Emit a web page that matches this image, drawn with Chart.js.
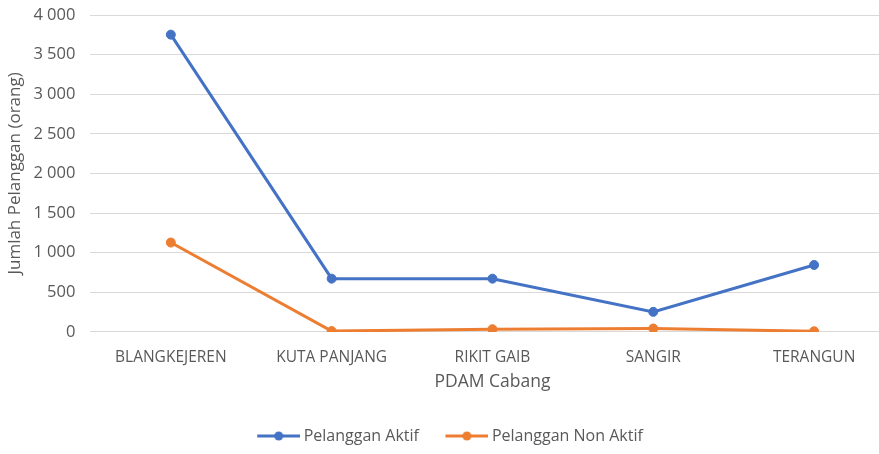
<!DOCTYPE html>
<html><head><meta charset="utf-8">
<script src="https://cdn.jsdelivr.net/npm/chart.js@4/dist/chart.umd.min.js"></script>
<style>html,body{margin:0;padding:0;overflow:hidden;background:#fff}#wrap{width:900px;height:454px}</style>
</head><body><div id="wrap"><canvas id="c" width="900" height="454"></canvas></div>
<script>
const categories = ['BLANGKEJEREN','KUTA PANJANG','RIKIT GAIB','SANGIR','TERANGUN'];
const aktif = [3752, 672, 672, 253, 845];
const nonAktif = [1128, 10, 34, 43, 8];
const seriesNames = ['Pelanggan Aktif','Pelanggan Non Aktif'];
const xTitle = 'PDAM Cabang';
const yTitle = 'Jumlah Pelanggan (orang)';

const FONT = '"Open Sans", sans-serif';
const GREY = '#595959';
const ICON_W = 54;           // legend point-style slot width
const LEGEND_CENTER = 450;   // visual centre of the legend row
function legendIcon(color){
  const W = ICON_W + 9, L = 43;
  const c = document.createElement('canvas'); c.width = W; c.height = 12;
  const g = c.getContext('2d');
  g.strokeStyle = color; g.lineWidth = 3; g.beginPath(); g.moveTo(W - L, 6); g.lineTo(W, 6); g.stroke();
  g.fillStyle = color; g.beginPath(); g.arc(W - L / 2, 6, 4.5, 0, Math.PI * 2); g.fill();
  return c;
}
const icons = [legendIcon('#4472C4'), legendIcon('#ED7D31')];

const legendShift = {
  id: 'legendShift',
  afterLayout(chart) {
    const lg = chart.legend; if (!lg) return;
    const cur = (lg.left + lg.right) / 2 + (ICON_W - 38.5) / 2;
    const s = cur - LEGEND_CENTER;
    lg.left -= s; lg.right -= s;
  }
};

new Chart(document.getElementById('c'), {
  type: 'line',
  data: {
    labels: categories,
    datasets: [
      {label: seriesNames[0], data: aktif, borderColor:'#4472C4', backgroundColor:'#4472C4', borderWidth:3, pointRadius:4.5, pointBorderWidth:1, pointHoverRadius:4.5},
      {label: seriesNames[1], data: nonAktif, borderColor:'#ED7D31', backgroundColor:'#ED7D31', borderWidth:3, pointRadius:4.5, pointBorderWidth:1, pointHoverRadius:4.5}
    ]
  },
  plugins: [legendShift],
  options: {
    responsive: false, animation: false,
    layout: {padding: {top: 0, left: 0, right: -8, bottom: 0}},
    plugins: {
      tooltip: {enabled:false},
      legend: {position:'bottom', labels: {
        usePointStyle: true, pointStyleWidth: ICON_W, color: GREY, font: {family: FONT, size: 16}, padding: 11,
        generateLabels: (chart) => chart.data.datasets.map((d,i) => ({text: d.label, pointStyle: icons[i], fillStyle: d.borderColor, strokeStyle: d.borderColor, lineWidth: 0, datasetIndex: i, fontColor: GREY}))
      }}
    },
    scales: {
      x: {
        offset: true,
        grid: {display:false, drawTicks:false},
        border: {display:false},
        ticks: {color: GREY, font:{family: FONT, size: 15.5}, padding: 16, maxRotation:0, autoSkip:false},
        title: {display:true, text: xTitle, color: GREY, font:{family: FONT, size: 17.5}, padding:{top:-10.5, bottom:24}}
      },
      y: {
        min: 0, max: 4000,
        grid: {color:'#d9d9d9', lineWidth:1, drawTicks:false},
        border: {display:false},
        ticks: {stepSize:500, color: GREY, font:{family: FONT, size: 16.5, lineHeight: 0}, padding: 15,
          callback: v => String(v).replace(/\B(?=(\d{3})+(?!\d))/g, ' ')},
        title: {display:true, text: yTitle, color: GREY, font:{family: FONT, size: 17}, padding:{top:5,bottom:-7}}
      }
    }
  }
});
</script></body></html>
